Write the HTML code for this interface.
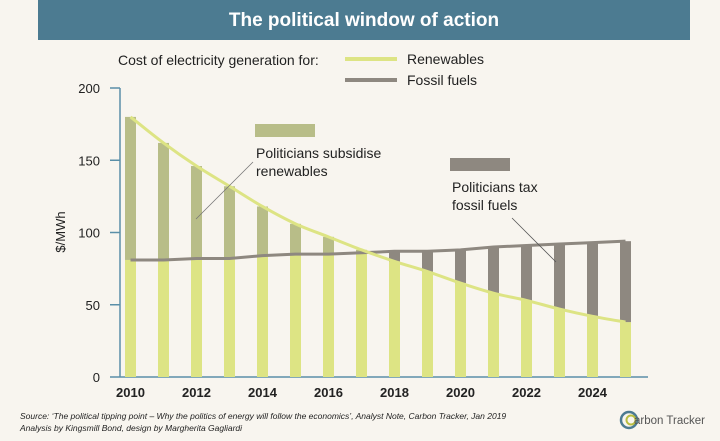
<!DOCTYPE html>
<html><head><meta charset="utf-8"><style>
body{margin:0;background:#f8f5ef;font-family:"Liberation Sans",sans-serif;}
#c{position:relative;width:720px;height:441px;overflow:hidden;background:#f8f5ef;}
</style></head><body>
<div id="c">
<svg width="720" height="441" id="svg">
<rect x="38" y="0" width="652" height="40" fill="#4c7b91"/>
<text x="364" y="26" text-anchor="middle" fill="#fff" font-size="19" font-weight="bold">The political window of action</text>
<text x="118" y="65" font-size="14" fill="#222">Cost of electricity generation for:</text>
<line x1="345" y1="59" x2="397" y2="59" stroke="#dde484" stroke-width="4"/>
<text x="407" y="64" font-size="14" fill="#222">Renewables</text>
<line x1="345" y1="80" x2="397" y2="80" stroke="#8e8880" stroke-width="4"/>
<text x="407" y="85" font-size="14" fill="#222">Fossil fuels</text>
<g id="plot"></g>
<rect x="255" y="124" width="60" height="13" fill="#b8bd88"/>
<text x="256" y="158" font-size="14" fill="#222">Politicians subsidise</text>
<text x="256" y="176" font-size="14" fill="#222">renewables</text>
<line x1="253" y1="162" x2="196" y2="219" stroke="#777" stroke-width="0.8"/>
<rect x="450" y="158" width="60" height="13" fill="#8e8880"/>
<text x="452" y="192" font-size="14" fill="#222">Politicians tax</text>
<text x="452" y="210" font-size="14" fill="#222">fossil fuels</text>
<line x1="512" y1="218" x2="556" y2="262" stroke="#555" stroke-width="0.8"/>
<text x="20" y="419" font-size="8.5" font-style="italic" fill="#222">Source: ‘The political tipping point – Why the politics of energy will follow the economics’, Analyst Note, Carbon Tracker, Jan 2019</text>
<text x="20" y="431" font-size="8.5" font-style="italic" fill="#222">Analysis by Kingsmill Bond, design by Margherita Gagliardi</text>
<g>
<circle cx="629" cy="420" r="8" fill="none" stroke="#4c7b91" stroke-width="2.5"/>
<circle cx="631" cy="420" r="4.5" fill="none" stroke="#b8bd40" stroke-width="2"/>
<text x="634" y="424" font-size="11.5" fill="#555">arbon Tracker</text>
</g>
</svg>
</div>
<script>
const years=[2010,2011,2012,2013,2014,2015,2016,2017,2018,2019,2020,2021,2022,2023,2024,2025];
const renewables=[180,162,146,132,118,106,97,88,80,73,65,58,53,47,42,38];
const fossil=[81,81,82,82,84,85,85,86,87,87,88,90,91,92,93,94];
const yTicks=[0,50,100,150,200];
const xTickLabels=[2010,2012,2014,2016,2018,2020,2022,2024];
const NS="http://www.w3.org/2000/svg";
const g=document.getElementById('plot');
const x=yr=>130.5+(yr-2010)*33;
const y=v=>377-v*1.445;
function el(t,a,p){const e=document.createElementNS(NS,t);for(const k in a)e.setAttribute(k,a[k]);(p||g).appendChild(e);return e;}
let ax=el('line',{x1:120,y1:y(0),x2:648,y2:y(0),stroke:'#5a8fa8','stroke-width':1.5});


let ay=el('line',{x1:120,y1:y(0),x2:120,y2:y(200),stroke:'#5a8fa8','stroke-width':1.5});


yTicks.forEach(v=>{
 let t=el('line',{x1:110,y1:y(v),x2:120,y2:y(v),stroke:'#5a8fa8','stroke-width':1.5});
 
 
 let l=el('text',{x:100,y:y(v)+5,'text-anchor':'end','font-size':13,fill:'#222'});
 l.textContent=v;
 
 
});
let yt=el('text',{x:0,y:0,'font-size':13,fill:'#222',transform:'translate(65,232) rotate(-90)','text-anchor':'middle'});
yt.textContent='$/MWh';


xTickLabels.forEach(v=>{
 let l=el('text',{x:x(v),y:397,'text-anchor':'middle','font-size':13,fill:'#222','font-weight':'bold'});
 l.textContent=v;
 
 
});
const bw=11;
years.forEach((yr,i)=>{
 const r=renewables[i],f=fossil[i],lo=Math.min(r,f),hi=Math.max(r,f);
 let b=el('rect',{x:x(yr)-bw/2,y:y(lo),width:bw,height:y(0)-y(lo),fill:'#dde484'});
 
 
 let t=el('rect',{x:x(yr)-bw/2,y:y(hi),width:bw,height:y(lo)-y(hi),fill:r>f?'#b8bd88':'#8e8880'});
 
 
});
function path(arr){return arr.map((v,i)=>(i?'L':'M')+x(years[i])+','+y(v)).join(' ');}
function smooth(arr){
 const p=arr.map((v,i)=>[x(years[i]),y(v)]);
 let d='M'+p[0][0]+','+p[0][1];
 for(let i=0;i<p.length-1;i++){
  const p0=p[i-1]||p[i],p1=p[i],p2=p[i+1],p3=p[i+2]||p2;
  const c1=[p1[0]+(p2[0]-p0[0])/6,p1[1]+(p2[1]-p0[1])/6];
  const c2=[p2[0]-(p3[0]-p1[0])/6,p2[1]-(p3[1]-p1[1])/6];
  d+=' C'+c1[0]+','+c1[1]+' '+c2[0]+','+c2[1]+' '+p2[0]+','+p2[1];
 }
 return d;
}
let fl=el('path',{d:path(fossil),fill:'none',stroke:'#8e8880','stroke-width':3});


let rl=el('path',{d:smooth(renewables),fill:'none',stroke:'#dde484','stroke-width':3});


</script>
</body></html>
